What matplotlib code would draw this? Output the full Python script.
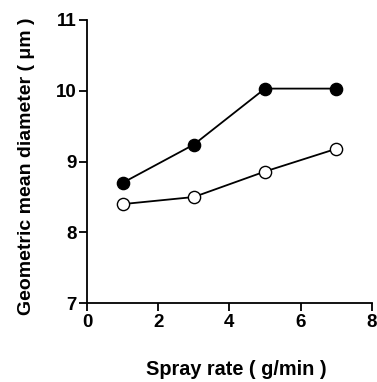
import matplotlib
matplotlib.use("Agg")
import matplotlib.pyplot as plt

spray_rate = [1, 3, 5, 7]
filled_series = [8.70, 9.24, 10.03, 10.03]
open_series = [8.40, 8.50, 8.86, 9.18]
x_ticks = [0, 2, 4, 6, 8]
y_ticks = [7, 8, 9, 10, 11]

plt.rcParams['font.family'] = ['Liberation Sans', 'DejaVu Sans']

fig = plt.figure(figsize=(3.77, 3.82), dpi=100)
ax = fig.add_axes([0.231, 0.206, 0.755, 0.742])

ax.plot(spray_rate, filled_series, '-o', color='black', lw=1.3,
        markersize=8.8, markerfacecolor='black', markeredgecolor='black',
        markeredgewidth=1.0, zorder=3, clip_on=False)
ax.plot(spray_rate, open_series, '-o', color='black', lw=1.3,
        markersize=8.8, markerfacecolor='white', markeredgecolor='black',
        markeredgewidth=1.0, zorder=3, clip_on=False)

ax.set_xlim(0, 8)
ax.set_ylim(7, 11)
ax.set_xticks(x_ticks)
ax.set_yticks(y_ticks)
ax.spines['top'].set_visible(False)
ax.spines['right'].set_visible(False)
for s in ('left', 'bottom'):
    ax.spines[s].set_linewidth(1.3)
ax.tick_params(direction='out', length=5.5, width=1.3, labelsize=13.5, pad=2)
for lbl in ax.get_xticklabels() + ax.get_yticklabels():
    lbl.set_fontweight('bold')

ax.set_xlabel('Spray rate ( g/min )', fontsize=14.3, fontweight='bold', labelpad=21)
ax.set_ylabel('Geometric mean diameter ( \u03bcm )', fontsize=14, fontweight='bold', labelpad=15)
ax.xaxis.label.set_x(0.523)
ax.yaxis.label.set_y(0.483)

fig.savefig('out.png', dpi=100)
